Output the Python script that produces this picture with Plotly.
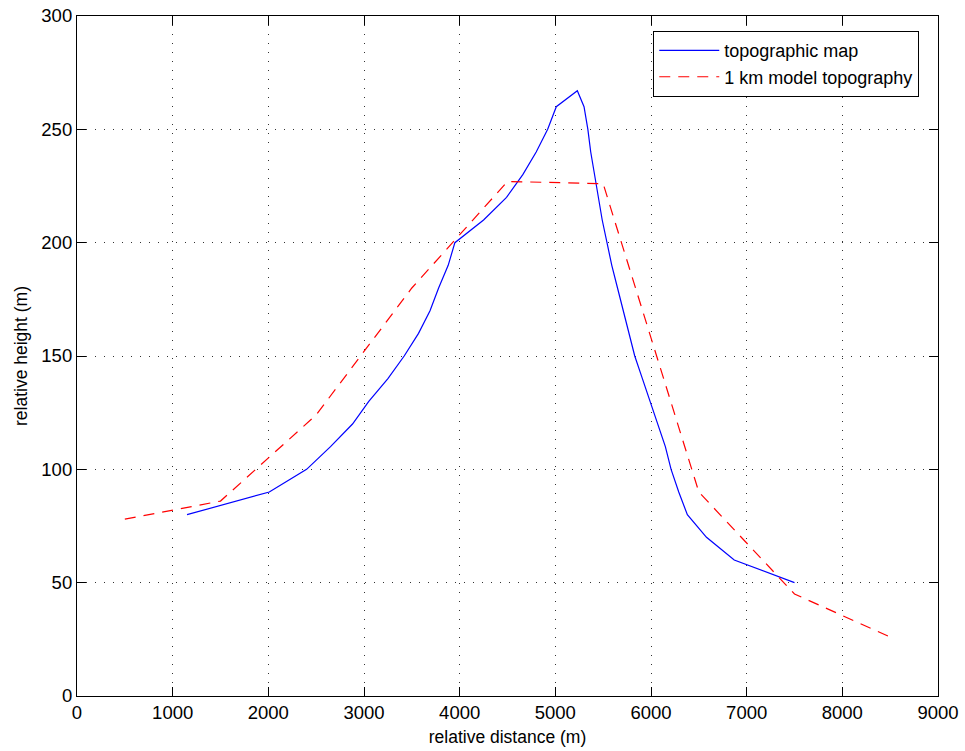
import plotly.graph_objects as go

# topographic map (contour crossings)
map_x = [1150, 2010, 2400, 2650, 2880, 3050, 3250, 3420, 3570, 3690, 3780, 3880, 3950,
         4250, 4490, 4660, 4800, 4920, 5010, 5230,
         5300, 5340, 5370, 5410, 5450, 5490, 5540, 5590, 5650, 5710, 5770, 5830, 5910,
         5990, 6070, 6150, 6210, 6290, 6380, 6580, 6870, 7500]
map_h = [80, 90, 100, 110, 120, 130, 140, 150, 160, 170, 180, 190, 200,
         210, 220, 230, 240, 250, 260, 267,
         260, 250, 240, 230, 220, 210, 200, 190, 180, 170, 160, 150, 140,
         130, 120, 110, 100, 90, 80, 70, 60, 50]

# 1 km model topography
model_x = [500, 1500, 2500, 3500, 4500, 5500, 6500, 7500, 8500]
model_h = [78, 86, 124, 180, 227, 226, 90, 45, 26]

x_ticks = [0, 1000, 2000, 3000, 4000, 5000, 6000, 7000, 8000, 9000]
y_ticks = [0, 50, 100, 150, 200, 250, 300]

font_family = "Liberation Sans, Arial, Helvetica, sans-serif"

fig = go.Figure()
fig.add_trace(go.Scatter(x=map_x, y=map_h, mode="lines", name="topographic map",
                         line=dict(color="#0000ff", width=1.2)))
fig.add_trace(go.Scatter(x=model_x, y=model_h, mode="lines", name="1 km model topography",
                         line=dict(color="#ff0000", width=1.2, dash="11px,8px")))

axis_common = dict(
    showline=True, linecolor="black", linewidth=1.2, mirror="ticks",
    ticks="inside", ticklen=9, tickwidth=1, tickcolor="black",
    showgrid=True, gridcolor="#333333", gridwidth=1, griddash="1px,8px",
    zeroline=False, automargin=False,
    tickfont=dict(size=18.5, color="black", family=font_family),
)

fig.update_xaxes(range=[0, 9000], tickvals=x_ticks, ticktext=[str(v) for v in x_ticks],
                 title=dict(text="relative distance (m)", font=dict(size=17.5, color="black", family=font_family), standoff=8),
                 **axis_common)
fig.update_yaxes(range=[0, 300], tickvals=y_ticks, ticktext=[str(v) for v in y_ticks],
                 title=dict(text="relative height (m)", font=dict(size=17.5, color="black", family=font_family), standoff=9),
                 **axis_common)

fig.update_layout(
    width=965, height=751,
    margin=dict(l=77, r=27, t=16, b=55),
    paper_bgcolor="white", plot_bgcolor="white",
    font=dict(family=font_family, size=18.5, color="black"),
    showlegend=True,
    legend=dict(x=0.978, y=0.978, xanchor="right", yanchor="top",
                bgcolor="white", bordercolor="black", borderwidth=1.2,
                font=dict(size=18, color="black", family=font_family),
                tracegroupgap=0, itemwidth=60),
)

fig.write_html("out.html")
